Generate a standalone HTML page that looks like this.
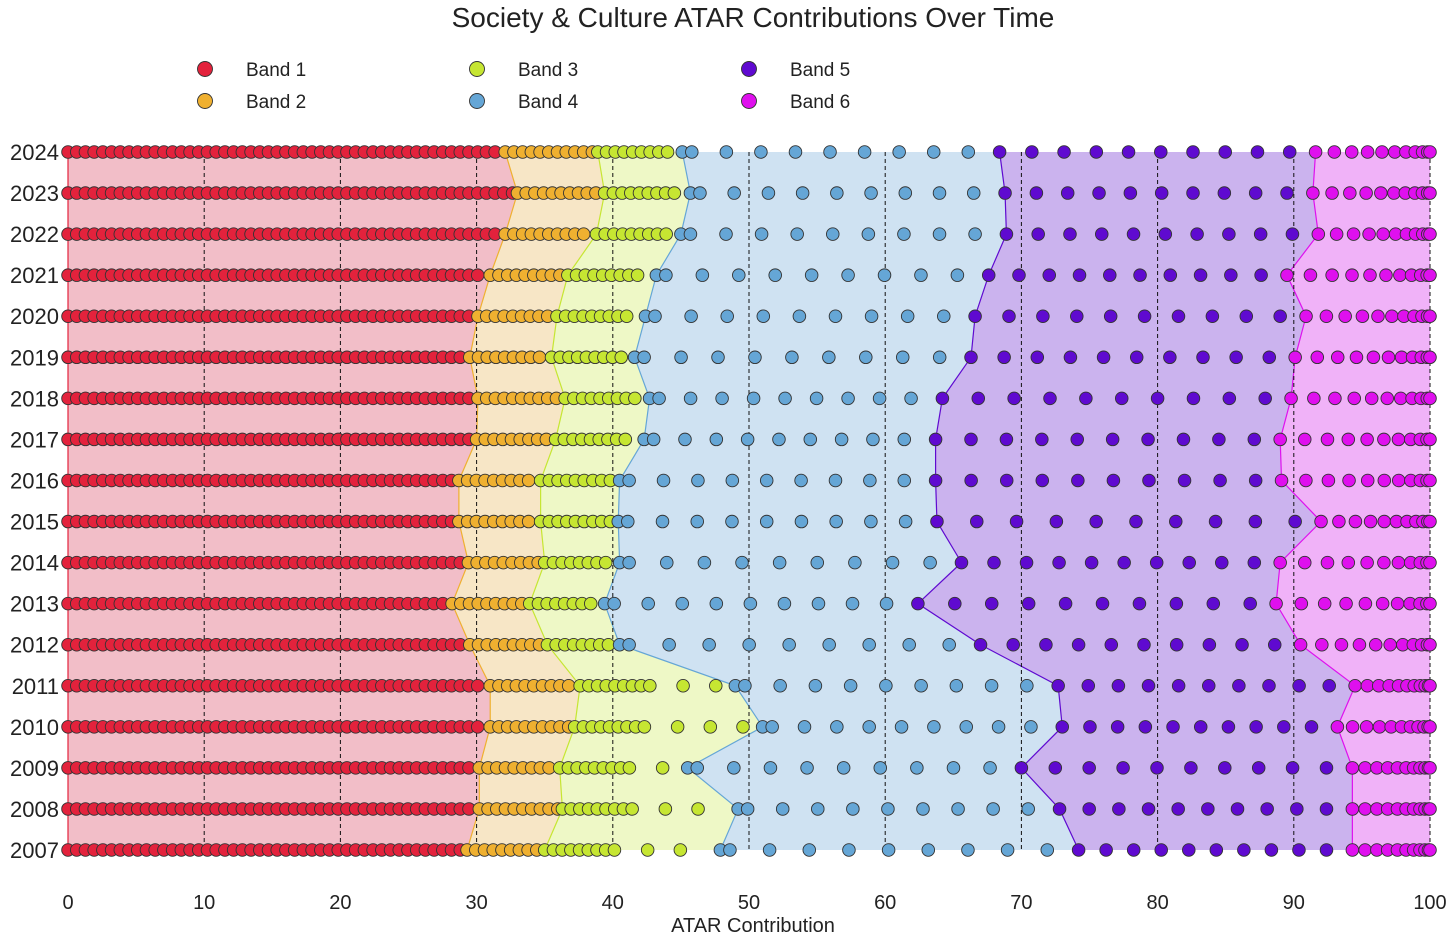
<!DOCTYPE html>
<html><head><meta charset="utf-8"><style>
body{margin:0;background:#fff;}
svg{display:block;font-family:"Liberation Sans",sans-serif;}
</style></head><body>
<svg id="chart" width="1456" height="941">
<text x="753" y="27" text-anchor="middle" font-size="28" fill="#222">Society &amp; Culture ATAR Contributions Over Time</text>
<text x="753" y="932" text-anchor="middle" font-size="20" fill="#222">ATAR Contribution</text>
</svg>
<script>
const years=[2024,2023,2022,2021,2020,2019,2018,2017,2016,2015,2014,2013,2012,2011,2010,2009,2008,2007];
const b2=[32.1,33.0,32.1,31.0,30.1,29.5,30.1,30.0,28.7,28.7,29.4,28.2,29.5,31.0,31.0,30.2,30.2,29.3];
const b3=[38.9,39.4,38.8,36.7,35.9,35.5,36.5,35.8,34.7,34.7,35.0,33.9,35.2,37.6,37.2,36.1,36.3,35.0];
const b4=[45.1,45.7,45.0,43.2,42.4,41.6,42.7,42.3,40.5,40.4,40.5,39.4,40.5,49.0,51.0,45.5,49.2,47.9];
const b5=[68.4,68.8,68.9,67.6,66.6,66.3,64.2,63.7,63.7,63.8,65.6,62.4,67.0,72.7,73.0,70.0,72.8,74.2];
const b6=[91.6,91.4,91.8,89.5,90.9,90.1,89.8,89.0,89.1,92.0,89.0,88.7,90.5,94.5,93.2,94.3,94.3,94.3];
const xTicks=[0,10,20,30,40,50,60,70,80,90,100];
const bandNames=["Band 1","Band 2","Band 3","Band 4","Band 5","Band 6"];
const dotC=["#e3223c","#efb030","#c6e632","#65a6d6","#5f0ad0","#df10ee"];
const fillC=["#f2bec8","#f7e6c6","#eef8c6","#cfe2f2","#cbb3ee","#f0b2f8"];
const NS="http://www.w3.org/2000/svg";
const svg=document.getElementById('chart');
const X=v=>68+v*13.62;
const Y=i=>152+i*41.06;
function mk(t,a,p){const e=document.createElementNS(NS,t);for(const k in a)e.setAttribute(k,a[k]);(p||svg).appendChild(e);return e;}
const bounds=[years.map(()=>0),b2,b3,b4,b5,b6,years.map(()=>100)];
for(let b=0;b<6;b++){
  let pts=[];
  years.forEach((y,i)=>pts.push(X(bounds[b][i])+","+Y(i)));
  for(let i=years.length-1;i>=0;i--)pts.push(X(bounds[b+1][i])+","+Y(i));
  const p=mk('polygon',{points:pts.join(' '),fill:fillC[b],stroke:'none'});
  
  
  if(b>0){const l=mk('polyline',{points:years.map((y,i)=>X(bounds[b][i])+","+Y(i)).join(' '),fill:'none',stroke:dotC[b],'stroke-width':1.2});
  
  }
}
const l0=mk('line',{x1:X(0),x2:X(0),y1:Y(0),y2:Y(17),stroke:dotC[0],'stroke-width':1.2});
xTicks.forEach(t=>{
  if(t>0){const g=mk('line',{x1:X(t),x2:X(t),y1:Y(0),y2:Y(17),stroke:'#111','stroke-width':1,'stroke-dasharray':'4,3'});
  
  }
  const tx=mk('text',{x:X(t),y:909,'text-anchor':'middle','font-size':20,fill:'#222'});tx.textContent=t;
  
  
});
years.forEach((yr,i)=>{
  const yl=mk('text',{x:59,y:Y(i)+8,'text-anchor':'end','font-size':22,fill:'#222'});yl.textContent=yr;
  
  
  let pos=[];
  for(let b=0;b<6;b++){
    const s=bounds[b][i],e=bounds[b+1][i];let arr=[];
    if(b<2){for(let v=s;v<e-0.3;v+=0.64)arr.push(v);}
    else if(b==2){const de=Math.min(e-0.5,s+5.5);let v=s;for(;v<=de;v+=0.64)arr.push(v);v+=1.8;for(;v<e-1.2;v+=2.4)arr.push(v);}
    else if(b==3){const n=10;arr.push(s);for(let k=1;k<n;k++)arr.push(s+0.7+(e-s-3)*(k-1)/(n-2));}
    else if(b==4){const n=10;for(let k=0;k<n;k++)arr.push(s+(e-s-1.9)*k/(n-1));}
    else{const n=11;for(let k=0;k<n;k++){const t=k/(n-1);arr.push(s+(100-s)*(1-Math.pow(1-t,1.7)));}}
    arr.forEach(v=>pos.push([v,b]));
  }
  pos.forEach(([v,b])=>{
    const c=mk('circle',{cx:X(v),cy:Y(i),r:6.3,fill:dotC[b],stroke:'#333','stroke-width':0.9});
    
    
  });
});
bandNames.forEach((n,k)=>{
  const col=Math.floor(k/2),row=k%2;
  const lx=205+col*272,ly=69+row*32;
  const c=mk('circle',{cx:lx,cy:ly,r:7.5,fill:dotC[k],stroke:'#333','stroke-width':0.9});
  
  
  const t=mk('text',{x:lx+41,y:ly+7,'font-size':19,fill:'#222'});t.textContent=n;
  
  
});
</script>
</body></html>
